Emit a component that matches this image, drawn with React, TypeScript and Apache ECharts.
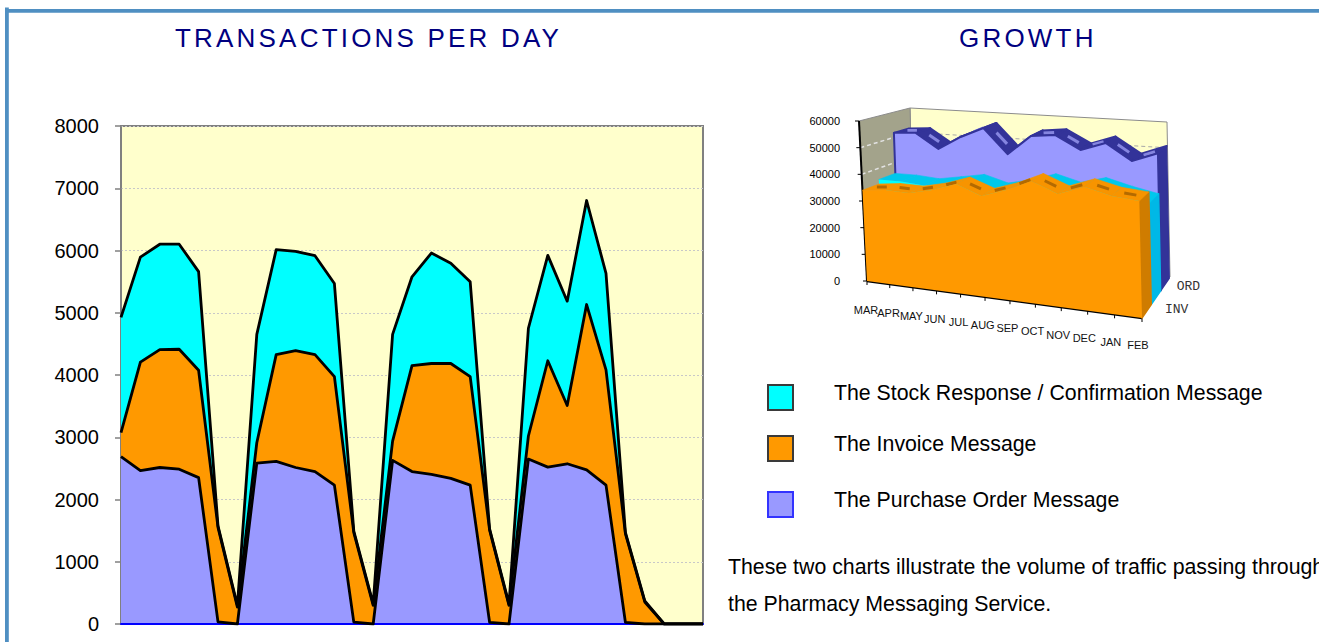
import React, { useEffect, useRef } from 'react';
import * as echarts from 'echarts';

const FONT = "'Liberation Sans', Arial, Helvetica, sans-serif";

// ---------- TRANSACTIONS PER DAY ----------
const days = ['1', '2', '3', '4', '5', '6', '7', '8', '9', '10', '11', '12', '13', '14', '15', '16', '17', '18', '19', '20', '21', '22', '23', '24', '25', '26', '27', '28', '29', '30', '31'];
const transactionTicks = [0, 1000, 2000, 3000, 4000, 5000, 6000, 7000, 8000];
const purchaseOrder = [2690, 2465, 2514, 2487, 2351, 35, 0, 2585, 2612, 2514, 2449, 2231, 30, 0, 2629, 2449, 2405, 2340, 2231, 27, 0, 2650, 2520, 2574, 2476, 2231, 27, 0, 0, 0, 0];
const invoice = [385, 1742, 1894, 1927, 1725, 1516, 272, 327, 1715, 1878, 1878, 1742, 1439, 300, 310, 1703, 1780, 1845, 1742, 1480, 300, 370, 1709, 936, 2656, 1851, 1426, 354, 0, 0, 0];
const stockResponse = [1850, 1687, 1693, 1687, 1584, 25, 25, 1741, 1687, 1594, 1589, 1496, 25, 25, 1714, 1426, 1774, 1611, 1524, 20, 20, 1731, 1692, 1676, 1671, 1551, 20, 16, 0, 0, 0];

// ---------- GROWTH ----------
const months = ['MAR', 'APR', 'MAY', 'JUN', 'JUL', 'AUG', 'SEP', 'OCT', 'NOV', 'DEC', 'JAN', 'FEB'];
const growthTicks = [0, 10000, 20000, 30000, 40000, 50000, 60000];
const invGrowth = [34000, 35000, 34800, 36800, 39800, 36400, 39400, 43500, 39800, 43200, 40900, 40100];
const stkGrowth = [35700, 35700, 35000, 36500, 38100, 35500, 37500, 40500, 38000, 40500, 38000, 36000];
const ordGrowth = [51800, 52400, 46700, 52000, 56100, 46600, 54200, 55200, 50200, 53500, 47400, 51000];
const depthLabels = ['INV', '', 'ORD'];

// ---------- texts ----------
const titles = ['TRANSACTIONS PER DAY', 'GROWTH'];
const legendLabels = ['The Stock Response / Confirmation Message', 'The Invoice Message', 'The Purchase Order Message'];
const noteLines = ['These two charts illustrate the volume of traffic passing through', 'the Pharmacy Messaging Service.'];

// ---------- 3D projection helpers (layout) ----------
const C = {
  f0b: [867, 281], f0t: [859, 121], f1b: [1142, 318], f1t: [1138, 143],
  b0b: [914, 254], b0t: [910, 108], b1b: [1170, 277], b1t: [1167, 122],
};
const PERSP = 1.108;
const L = (a: number[], b: number[], t: number) => [a[0] + (b[0] - a[0]) * t, a[1] + (b[1] - a[1]) * t];
function P(u: number, v: number, d: number) {
  const g = u / (u + PERSP * (1 - u));
  const front = L(L(C.f0b, C.f1b, g), L(C.f0t, C.f1t, g), v);
  const back = L(L(C.b0b, C.b1b, g), L(C.b0t, C.b1t, g), v);
  return L(front, back, d);
}
const poly = (points: number[][], fill: string, stroke?: string | null, lw?: number) => ({
  type: 'polygon',
  shape: { points },
  style: stroke ? { fill, stroke, lineWidth: lw || 1, lineJoin: 'round' } : { fill },
  silent: true,
});
const seg = (a: number[], b: number[], stroke: string, lw: number, dash?: number[]) => ({
  type: 'line',
  shape: { x1: a[0], y1: a[1], x2: b[0], y2: b[1] },
  style: dash ? { stroke, lineWidth: lw, lineDash: dash } : { stroke, lineWidth: lw },
  silent: true,
});

const ribbons = [
  { values: ordGrowth, label: depthLabels[2], d0: 0.67, d1: 0.97, front: '#9999ff', top: '#333399', end: '#333399', stroke: '#333399', dash: '#8585e0', z: 2 },
  { values: stkGrowth, label: depthLabels[1], d0: 0.335, d1: 0.665, front: '#00ffff', top: '#00c8ec', end: '#00b8e6', stroke: null, dash: null, z: 3 },
  { values: invGrowth, label: depthLabels[0], d0: 0, d1: 0.33, front: '#ff9900', top: '#f79400', end: '#cf7c00', stroke: null, dash: '#b36a00', z: 4 },
];

function ribbonSeries(r: any) {
  return {
    type: 'custom',
    xAxisIndex: 1,
    yAxisIndex: 1,
    z: r.z,
    silent: true,
    data: [[0, 0, ...r.values]],
    encode: { x: 0, y: 1 },
    renderItem: (params: any, api: any) => {
      const cs = params.coordSys;
      const n = r.values.length;
      const uv: number[][] = [];
      for (let i = 0; i < n; i++) {
        const c = api.coord([i, api.value(i + 2)]);
        uv.push([(c[0] - cs.x) / cs.width, (cs.y + cs.height - c[1]) / cs.height]);
      }
      const ch: any[] = [];
      const last = uv[n - 1];
      ch.push(poly([P(last[0], last[1], r.d0), P(last[0], last[1], r.d1), P(last[0], 0, r.d1), P(last[0], 0, r.d0)], r.end, r.stroke || r.end, 1.5));
      for (let i = 0; i < n - 1; i++) {
        const a = uv[i];
        const b = uv[i + 1];
        ch.push(poly([P(a[0], a[1], r.d0), P(b[0], b[1], r.d0), P(b[0], b[1], r.d1), P(a[0], a[1], r.d1)], r.top, r.stroke || r.top, r.stroke ? 2 : 0.6));
        if (r.dash) {
          const dm = (r.d0 + r.d1) / 2;
          const at = (t: number) => P(a[0] + (b[0] - a[0]) * t, a[1] + (b[1] - a[1]) * t, dm);
          ch.push(seg(at(0.28), at(0.72), r.dash, 3));
        }
      }
      const front = uv.map((p) => P(p[0], p[1], r.d0));
      front.push(P(last[0], 0, r.d0));
      front.push(P(uv[0][0], 0, r.d0));
      ch.push(poly(front, r.front, r.stroke, 2));
      if (r.label) {
        const dm = (r.d0 + r.d1) / 2;
        const p = P(1, 0, dm);
        ch.push({
          type: 'text',
          x: p[0] + 20 - 10 * dm,
          y: p[1] - 3 + 6 * dm,
          silent: true,
          style: { text: r.label, fill: '#333', fontSize: 13, fontFamily: "'Liberation Mono', 'Courier New', monospace", align: 'left', verticalAlign: 'middle' },
        });
      }
      return { type: 'group', children: ch };
    },
  };
}

const wallsSeries = {
  type: 'custom',
  xAxisIndex: 1,
  yAxisIndex: 1,
  z: 1,
  silent: true,
  data: [[0, 0]],
  encode: { x: 0, y: 1 },
  renderItem: (params: any, api: any) => {
    const cs = params.coordSys;
    const vOf = (t: number) => (cs.y + cs.height - api.coord([0, t])[1]) / cs.height;
    const uOf = (i: number) => (api.coord([i, 0])[0] - cs.x) / cs.width;
    const top = vOf(growthTicks[growthTicks.length - 1]);
    const bot = vOf(growthTicks[0]);
    const u0 = uOf(0);
    const u1 = uOf(months.length - 1);
    const ch: any[] = [];
    ch.push(poly([P(u0, bot, 1), P(u0, top, 1), P(u1, top, 1), P(u1, bot, 1)], '#ffffcc', '#8c8c8c', 1));
    ch.push(poly([P(u0, bot, 0), P(u0, top, 0), P(u0, top, 1), P(u0, bot, 1)], '#a3a38b', '#8c8c8c', 1));
    growthTicks.forEach((t, k) => {
      const v = vOf(t);
      if (k > 0 && k < growthTicks.length - 1) {
        ch.push(seg(P(u0, v, 0), P(u0, v, 1), '#e2e2e2', 1.5, [4, 3]));
        ch.push(seg(P(u0, v, 1), P(u1, v, 1), '#a8a8a8', 1, [4, 3]));
      }
      const p = P(u0, v, 0);
      ch.push(seg([p[0] - 4, p[1]], p, '#000', 1));
    });
    ch.push(seg(P(u0, bot, 0), P(u0, top, 0), '#000', 2));
    ch.push(seg(P(u0, bot, 0), P(u1, bot, 0), '#000', 2.5));
    months.forEach((m, i) => {
      const u = uOf(i);
      const p = P(u, bot, 0);
      const g = u / (u + PERSP * (1 - u));
      ch.push(seg(p, [p[0], p[1] + 4], '#000', 1));
      ch.push({
        type: 'text',
        x: p[0] - 1 - 3 * g,
        y: p[1] + 29 - 2 * g,
        silent: true,
        style: { text: m, fill: '#111', fontSize: 11, fontFamily: FONT, align: 'center', verticalAlign: 'middle' },
      });
    });
    return { type: 'group', children: ch };
  },
};

const areaDefs = [
  { name: legendLabels[2], data: purchaseOrder, color: '#9999ff' },
  { name: legendLabels[1], data: invoice, color: '#ff9900' },
  { name: legendLabels[0], data: stockResponse, color: '#00ffff' },
];
const legendColors = [
  { fill: '#00ffff', stroke: '#3a3a3a' },
  { fill: '#ff9900', stroke: '#3a3a3a' },
  { fill: '#9999ff', stroke: '#3333ff' },
];
const legendY = [393, 444, 500];

const option: any = {
  animation: false,
  backgroundColor: '#ffffff',
  grid: [
    { left: 121, top: 126, width: 582, height: 498, show: true, backgroundColor: '#ffffcc', borderColor: '#808080', borderWidth: 2, containLabel: false, outerBoundsMode: 'none' },
    { left: 862, top: 121, width: 280, height: 160, show: false, containLabel: false, outerBoundsMode: 'none' },
  ],
  xAxis: [
    { type: 'category', gridIndex: 0, data: days, boundaryGap: false, z: 2, axisLabel: { show: false }, axisTick: { show: false }, splitLine: { show: false }, axisLine: { show: true, lineStyle: { color: '#0000ff', width: 2 } } },
    { type: 'category', gridIndex: 1, data: months, boundaryGap: false, show: false },
  ],
  yAxis: [
    {
      type: 'value', gridIndex: 0, z: 0,
      min: transactionTicks[0], max: transactionTicks[transactionTicks.length - 1], interval: transactionTicks[1] - transactionTicks[0],
      axisLine: { show: true, lineStyle: { color: '#808080', width: 1.5 } },
      axisTick: { show: true, length: 6, lineStyle: { color: '#808080', width: 1.5 } },
      axisLabel: { fontSize: 20, color: '#000', margin: 22, fontFamily: FONT, formatter: (v: number) => String(v) },
      splitLine: { show: true, lineStyle: { color: '#c8c8c8', type: [2, 2], width: 1 } },
    },
    {
      type: 'value', gridIndex: 1,
      min: growthTicks[0], max: growthTicks[growthTicks.length - 1], interval: growthTicks[1] - growthTicks[0],
      axisLine: { show: false }, axisTick: { show: false }, splitLine: { show: false },
      axisLabel: { fontSize: 11, color: '#000', margin: 22, fontFamily: FONT, formatter: (v: number) => String(v) },
    },
  ],
  series: [
    ...areaDefs.map((d) => ({
      type: 'line', name: d.name, stack: 'area', xAxisIndex: 0, yAxisIndex: 0, data: d.data, symbol: 'none', z: 1, silent: true,
      areaStyle: { color: d.color, opacity: 1 }, lineStyle: { width: 0, opacity: 0 },
    })),
    ...areaDefs.map((d) => ({
      type: 'line', name: d.name + ' outline', stack: 'outline', xAxisIndex: 0, yAxisIndex: 0, data: d.data, symbol: 'none', z: 3, silent: true,
      lineStyle: { color: '#000', width: 2.8, join: 'round' },
    })),
    wallsSeries,
    ...ribbons.map(ribbonSeries),
  ],
  graphic: [
    { type: 'rect', silent: true, shape: { x: 5, y: 9, width: 1314, height: 3.7 }, style: { fill: '#4f8fc2' } },
    { type: 'rect', silent: true, shape: { x: 5, y: 7.5, width: 3.8, height: 635 }, style: { fill: '#4f8fc2' } },
    { type: 'text', silent: true, x: 175, y: 37.5, style: { text: titles[0], fill: '#000080', fontSize: 26, fontFamily: FONT, align: 'left', verticalAlign: 'middle' } },
    { type: 'text', silent: true, x: 959, y: 37.5, style: { text: titles[1], fill: '#000080', fontSize: 26, fontFamily: FONT, align: 'left', verticalAlign: 'middle' } },
    ...legendLabels.map((t, i) => ({ type: 'rect', silent: true, shape: { x: 768, y: legendY[i] - 8, width: 25, height: 25 }, style: { fill: legendColors[i].fill, stroke: legendColors[i].stroke, lineWidth: 2 } })),
    ...legendLabels.map((t, i) => ({ type: 'text', silent: true, x: 834, y: legendY[i], style: { text: t, fill: '#000', fontSize: 21.3, fontFamily: FONT, align: 'left', verticalAlign: 'middle' } })),
    ...noteLines.map((t, i) => ({ type: 'text', silent: true, x: 728, y: 567 + i * 37, style: { text: t, fill: '#000', fontSize: 21.3, fontFamily: FONT, align: 'left', verticalAlign: 'middle' } })),
  ],
};

export default function App() {
  const ref = useRef<HTMLDivElement>(null);
  useEffect(() => {
    const el = ref.current as HTMLDivElement;
    const chart = echarts.init(el, null, { renderer: 'svg', width: 1319, height: 642 });
    chart.setOption(option);
    const spacing = () => {
      el.querySelectorAll('text').forEach((t) => {
        const s = t.textContent;
        if (s === titles[0] || s === titles[1]) t.setAttribute('letter-spacing', '3.2');
      });
    };
    spacing();
    chart.on('finished', spacing);
    return () => chart.dispose();
  }, []);
  return <div ref={ref} style={{ position: 'fixed', left: 0, top: 0, width: 1319, height: 642, background: '#fff' }} />;
}
